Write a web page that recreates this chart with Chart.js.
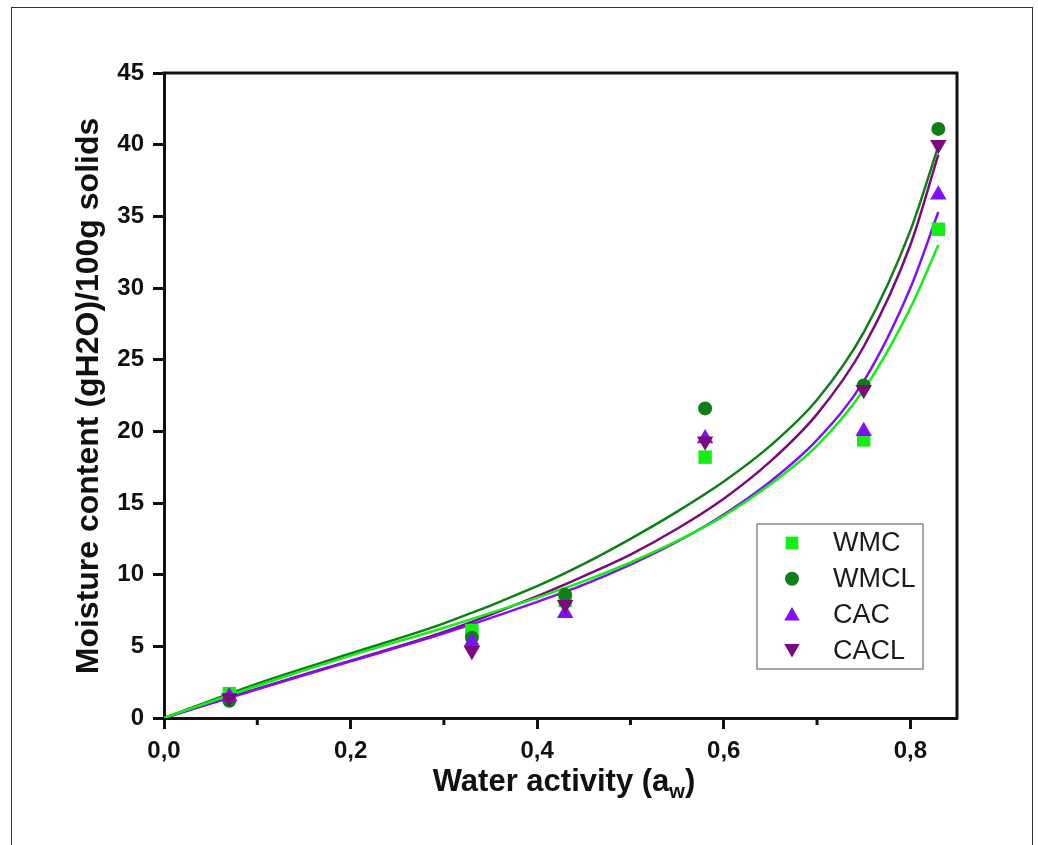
<!DOCTYPE html>
<html>
<head>
<meta charset="utf-8">
<title>Sorption isotherms</title>
<script src="https://cdn.jsdelivr.net/npm/chart.js@4.4.0/dist/chart.umd.min.js"></script>
<style>
  html, body { margin: 0; padding: 0; background: #fff; }
  body { width: 1038px; height: 845px; overflow: hidden; position: relative; }
  #frame { position: absolute; left: 11px; top: 7px; width: 1020px; height: 870px; border: 1.5px solid #333; }
  #isotherm { position: absolute; left: 0; top: 0; }
</style>
</head>
<body>
<div id="frame"></div>
<canvas id="isotherm" width="1038" height="845"></canvas>
<script>
// measured points
const awPoints = [0.07, 0.33, 0.43, 0.58, 0.75, 0.83];
const wmc  = [1.7, 6.1, 8.2, 18.2, 19.4, 34.1];
const wmcl = [1.2, 5.6, 8.6, 21.6, 23.2, 41.1];
const cac  = [1.5, 5.3, 7.3, 19.5, 20.0, 36.5];
const cacl = [1.4, 4.7, 7.9, 19.3, 22.9, 40.0];

// fitted isotherm curves
const awCurve = [0, 0.1, 0.2, 0.3, 0.4, 0.45, 0.5, 0.55, 0.6, 0.65, 0.7, 0.75, 0.8, 0.83];
const wmcFit  = [0, 2.25, 4.35, 6.3, 8.4, 9.55, 10.85, 12.35, 14.1, 16.3, 19.0, 22.9, 28.6, 33.0];
const wmclFit = [0, 2.4, 4.5, 6.6, 9.2, 10.75, 12.5, 14.4, 16.5, 19.0, 22.2, 26.9, 34.0, 39.9];
const cacFit  = [0, 2.0, 3.95, 5.9, 8.1, 9.3, 10.7, 12.3, 14.2, 16.5, 19.4, 23.5, 30.0, 35.3];
const caclFit = [0, 2.05, 4.0, 6.0, 8.5, 9.9, 11.4, 13.2, 15.3, 17.9, 21.2, 25.9, 33.0, 39.3];

const xTicks = [0, 0.2, 0.4, 0.6, 0.8];
const xMinor = [0.1, 0.3, 0.5, 0.7];
const yTicks = [0, 5, 10, 15, 20, 25, 30, 35, 40, 45];

const FONT = '"Liberation Sans", Arial, Helvetica, sans-serif';
const INK = '#111';

const series = [
    { label: 'WMC',  pts: wmc,  fit: wmcFit,  color: '#14ee14', style: 'rect',     radius: 9.5, rotation: 0 },
    { label: 'WMCL', pts: wmcl, fit: wmclFit, color: '#0e7e16', style: 'circle',   radius: 7,   rotation: 0 },
    { label: 'CAC',  pts: cac,  fit: cacFit,  color: '#8010f8', style: 'triangle', radius: 9.5, rotation: 0 },
    { label: 'CACL', pts: cacl, fit: caclFit, color: '#7a0a7e', style: 'triangle', radius: 9.5, rotation: 180 }
];

const pair = (xs, ys) => xs.map((x, i) => ({ x: x, y: ys[i] }));

const datasets = [];
series.forEach((s, i) => {
    datasets.push({
        label: s.label + ' fit',
        data: pair(awCurve, s.fit),
        showLine: true,
        borderColor: s.color,
        borderWidth: 2.5,
        pointRadius: 0,
        cubicInterpolationMode: 'monotone',
        fill: false,
        order: 10 + i
    });
    datasets.push({
        label: s.label,
        data: pair(awPoints, s.pts),
        showLine: false,
        backgroundColor: s.color,
        borderWidth: 0,
        pointStyle: s.style,
        pointRadius: s.radius,
        rotation: s.rotation,
        order: 4 - i
    });
});

// box, minor ticks, axis titles and the legend
const decorations = {
    id: 'decorations',
    afterDraw(chart) {
        const ctx = chart.ctx;
        const a = chart.chartArea;
        const xs = chart.scales.x;
        ctx.save();

        ctx.strokeStyle = INK;
        ctx.lineWidth = 3;
        ctx.beginPath();
        ctx.moveTo(a.left - 1.5, a.top);
        ctx.lineTo(a.right, a.top);
        ctx.lineTo(a.right, a.bottom + 1.5);
        ctx.stroke();

        xMinor.forEach(v => {
            const px = xs.getPixelForValue(v);
            ctx.beginPath();
            ctx.moveTo(px, a.bottom);
            ctx.lineTo(px, a.bottom + 7);
            ctx.stroke();
        });

        // x title with subscript
        ctx.fillStyle = INK;
        ctx.textBaseline = 'alphabetic';
        const big = 'bold 31px ' + FONT;
        const small = 'bold 20px ' + FONT;
        ctx.font = big;
        const p1 = 'Water activity (a', p3 = ')';
        const w1 = ctx.measureText(p1).width, w3 = ctx.measureText(p3).width;
        ctx.font = small;
        const w2 = ctx.measureText('w').width;
        const tx = 564 - (w1 + w2 + w3) / 2;
        const base = 791;
        ctx.font = big;
        ctx.fillText(p1, tx, base);
        ctx.font = small;
        ctx.fillText('w', tx + w1, base + 7);
        ctx.font = big;
        ctx.fillText(p3, tx + w1 + w2, base);

        // y title
        ctx.save();
        ctx.translate(89, 396);
        ctx.rotate(-Math.PI / 2);
        ctx.textAlign = 'center';
        ctx.textBaseline = 'middle';
        ctx.font = 'bold 32px ' + FONT;
        ctx.fillText('Moisture content (gH2O)/100g solids', 0, 0);
        ctx.restore();

        // legend
        const lx = 757, ly = 524, lw = 166, lh = 145;
        ctx.fillStyle = '#fff';
        ctx.fillRect(lx, ly, lw, lh);
        ctx.strokeStyle = '#8a8a8a';
        ctx.lineWidth = 1.5;
        ctx.strokeRect(lx, ly, lw, lh);
        ctx.font = '27px ' + FONT;
        ctx.textBaseline = 'middle';
        ctx.textAlign = 'left';
        series.forEach((s, i) => {
            const ry = 543 + i * 35.7;
            ctx.fillStyle = s.color;
            Chart.helpers.drawPoint(ctx, {
                pointStyle: s.style,
                radius: s.style === 'circle' ? 7 : 9,
                rotation: s.rotation,
                borderWidth: 0
            }, 792, ry + (s.style === 'triangle' ? (s.rotation ? -1.5 : 1.5) : 0));
            ctx.fillStyle = '#1a1a1a';
            ctx.fillText(s.label, 833, ry + 1);
        });

        ctx.restore();
    }
};

new Chart(document.getElementById('isotherm'), {
    type: 'scatter',
    data: { datasets: datasets },
    options: {
        responsive: false,
        animation: false,
        events: [],
        layout: { padding: { top: 73, right: 81, left: 0, bottom: 0 } },
        plugins: { legend: { display: false }, tooltip: { enabled: false } },
        scales: {
            x: {
                type: 'linear',
                position: 'bottom',
                min: 0,
                max: 0.85,
                afterBuildTicks: s => { s.ticks = xTicks.map(v => ({ value: v })); },
                afterFit: s => { s.height = 127; },
                ticks: {
                    color: INK,
                    padding: 8,
                    font: { family: FONT, size: 24, weight: 'bold' },
                    callback: v => v.toFixed(1).replace('.', ',')
                },
                grid: { drawOnChartArea: false, drawTicks: true, tickLength: 11, tickWidth: 3, tickColor: INK },
                border: { display: true, width: 3, color: INK }
            },
            y: {
                type: 'linear',
                min: 0,
                max: 45,
                afterBuildTicks: s => { s.ticks = yTicks.map(v => ({ value: v })); },
                afterFit: s => { s.width = 164; },
                ticks: {
                    color: INK,
                    padding: 9,
                    font: { family: FONT, size: 24, weight: 'bold' }
                },
                grid: { drawOnChartArea: false, drawTicks: true, tickLength: 11, tickWidth: 3, tickColor: INK },
                border: { display: true, width: 3, color: INK }
            }
        }
    },
    plugins: [decorations]
});
</script>
</body>
</html>
